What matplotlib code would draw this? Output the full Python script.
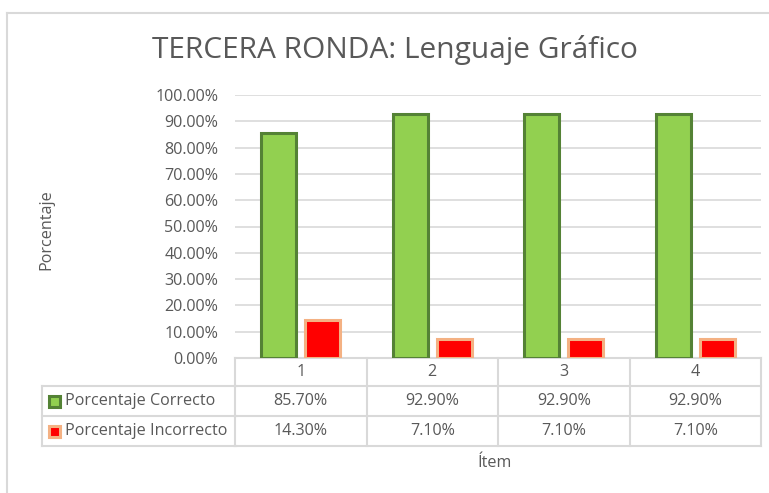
import matplotlib
matplotlib.use("Agg")
import matplotlib.pyplot as plt
import matplotlib.transforms as mtransforms
import numpy as np

categories = ["1", "2", "3", "4"]
correcto = [85.70, 92.90, 92.90, 92.90]
incorrecto = [14.30, 7.10, 7.10, 7.10]
series_names = ["Porcentaje Correcto", "Porcentaje Incorrecto"]
title = "TERCERA RONDA: Lenguaje Gráfico"
yticks = [0, 10, 20, 30, 40, 50, 60, 70, 80, 90, 100]

W, H = 769, 493
plt.rcParams['font.family'] = ['Open Sans', 'DejaVu Sans']
TXT = '#595959'
GRID = '#D9D9D9'
FS = 11.6

fig = plt.figure(figsize=(W / 100, H / 100), dpi=100)
fig.patch.set_facecolor('white')

def fx(px):
    return px / W

def fy(py):
    return 1 - py / H

ax = fig.add_axes([fx(235), fy(358), fx(761) - fx(235), fy(95) - fy(358)])
x = np.arange(len(categories))
bw = 0.266
off = 0.167
ax.bar(x - off, correcto, width=bw, color='#92D050', edgecolor='#548235', linewidth=2.2, zorder=3)
ax.bar(x + off, incorrecto, width=bw, color='#FF0000', edgecolor='#F4B183', linewidth=2.2, zorder=3)
ax.set_xlim(-0.5, len(categories) - 0.5)
ax.set_ylim(0, 100)
ax.set_yticks(yticks)
ax.set_yticklabels([f"{v:.2f}%" for v in yticks], color=TXT, fontsize=FS)
ax.set_xticks([])
ax.tick_params(axis='y', length=0, pad=12)
ax.grid(axis='y', color=GRID, linewidth=1.2, zorder=0)
for s in ax.spines.values():
    s.set_visible(False)

px = mtransforms.Affine2D().scale(1, -1).translate(0, H)
bl = mtransforms.blended_transform_factory(ax.transData, px)

ylines = [358, 386, 416, 446]
n = len(categories)
for i, yy in enumerate(ylines):
    ax.plot([-0.5, n - 0.5], [yy, yy], transform=bl, color=GRID, lw=1.5, clip_on=False, zorder=1)
    if i >= 1:
        fig.add_artist(plt.Line2D([42, 236], [yy, yy], transform=px, color=GRID, lw=1.5))
for k in range(n + 1):
    ax.plot([k - 0.5, k - 0.5], [358, 446], transform=bl, color=GRID, lw=1.5, clip_on=False, zorder=1)
fig.add_artist(plt.Line2D([42, 42], [386, 446], transform=px, color=GRID, lw=1.5))

for k, c in enumerate(categories):
    ax.text(k, 372, c, transform=bl, ha='center', va='center', color=TXT, fontsize=FS)
    ax.text(k, 401, f"{correcto[k]:.2f}%", transform=bl, ha='center', va='center', color=TXT, fontsize=FS)
    ax.text(k, 431, f"{incorrecto[k]:.2f}%", transform=bl, ha='center', va='center', color=TXT, fontsize=FS)

fig.add_artist(plt.Rectangle((49, 396), 11, 11, transform=px, facecolor='#92D050', edgecolor='#548235', lw=2.2))
fig.add_artist(plt.Rectangle((49, 426), 11, 11, transform=px, facecolor='#FF0000', edgecolor='#F4B183', lw=2.2))
fig.text(fx(65), fy(401), series_names[0], ha='left', va='center', color=TXT, fontsize=FS)
fig.text(fx(65), fy(431), series_names[1], ha='left', va='center', color=TXT, fontsize=FS)

fig.text(fx(495), fy(463), "Ítem", ha='center', va='center', color=TXT, fontsize=FS)
fig.text(fx(46), fy(230), "Porcentaje", ha='center', va='center', rotation=90, color=TXT, fontsize=FS)
fig.text(fx(395), fy(50), title, ha='center', va='center', color=TXT, fontsize=21.5)

fig.add_artist(plt.Line2D([7, 7], [13, H + 5], transform=px, color=GRID, lw=1.5))
fig.add_artist(plt.Line2D([7, W + 5], [13, 13], transform=px, color=GRID, lw=1.5))

fig.savefig("out.png", dpi=100, facecolor='white')
